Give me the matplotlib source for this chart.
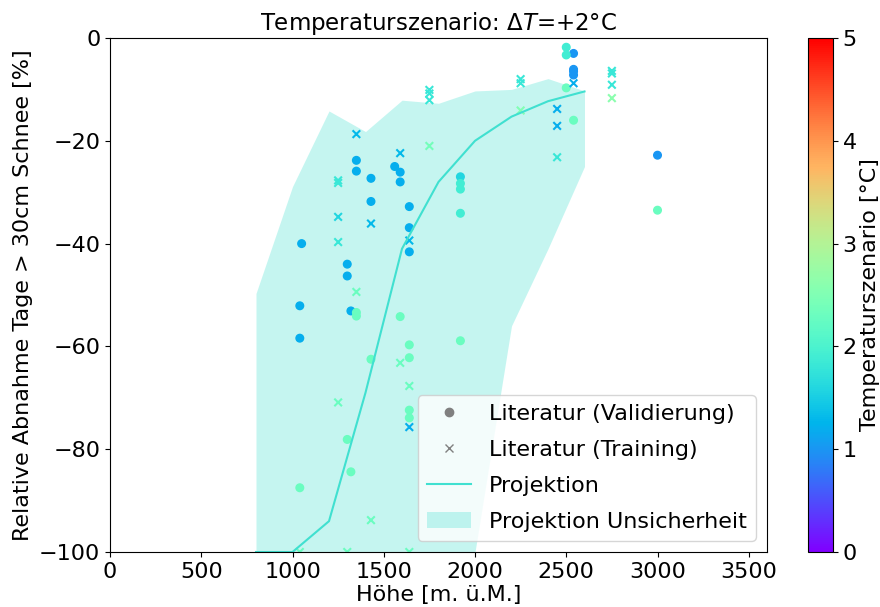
import matplotlib
matplotlib.use('Agg')
import matplotlib.pyplot as plt
from matplotlib.lines import Line2D
from matplotlib.patches import Patch
import matplotlib.cm as cm
import matplotlib.colors as mcolors

# Literatur (Validierung): Höhe, relative Abnahme, Temperaturszenario
val_hoehe = [1350, 1350, 1430, 1430, 1050, 1560, 1590, 1590, 1640, 1640, 1640, 1300, 1300, 1040, 1320, 1040,
             2540, 2540, 2540, 2540, 3000,
             1920, 1920, 1920, 1920, 2500, 2500,
             1350, 1350, 1590, 1640, 1640, 1430, 1640, 1640, 1300, 1320, 1040, 1920, 2500, 2540, 3000]
val_abnahme = [-23.8, -25.9, -27.3, -31.8, -40.0, -25.0, -26.1, -28.0, -32.8, -36.9, -41.6, -44.0, -46.3, -52.1, -53.1, -58.4,
               -3.0, -6.1, -6.5, -7.2, -22.8,
               -27.0, -28.3, -29.4, -34.1, -1.8, -3.3,
               -53.4, -54.1, -54.2, -59.7, -62.2, -62.5, -72.4, -73.9, -78.1, -84.4, -87.5, -58.9, -9.7, -16.0, -33.5]
val_temp = [1.2] * 16 + [1.0] * 5 + [1.6, 1.9, 1.9, 1.9, 1.9, 1.9] + [2.3] * 15

# Literatur (Training)
tr_hoehe = [1350, 1250, 1250, 1250, 1250, 1430, 1590, 1640, 1350, 1590, 1640, 1250, 1640, 1430,
            1040, 1300, 1640, 1750, 1750, 1750, 1750, 2250, 2250, 2250, 2450, 2450, 2450, 2540,
            2750, 2750, 2750, 2750]
tr_abnahme = [-18.7, -27.7, -28.2, -34.8, -39.7, -36.1, -22.4, -39.4, -49.4, -63.2, -67.7, -70.9, -75.7, -93.8,
              -100, -100, -100, -10.1, -10.8, -12.1, -21.0, -8.0, -8.8, -14.1, -13.8, -17.1, -23.2, -8.8,
              -6.4, -6.9, -9.1, -11.7]
tr_temp = [1.3, 1.8, 1.8, 1.6, 1.8, 1.3, 1.3, 1.3, 2.3, 2.3, 2.3, 2.3, 1.2, 2.3,
           2.3, 2.3, 2.3, 1.8, 1.8, 1.8, 2.4, 1.8, 1.8, 2.5, 1.2, 1.2, 1.8, 1.2,
           1.8, 1.8, 1.8, 2.6]

# Projektion und Unsicherheit
proj_hoehe = [800, 1000, 1200, 1400, 1600, 1800, 2000, 2200, 2400, 2600]
proj_mittel = [-100, -100, -94, -69, -41, -28, -20, -15.3, -12.3, -10.4]
proj_oben = [-49.7, -28.9, -14.2, -18.2, -12.1, -12.7, -10.3, -10.0, -7.9, -10.3]
proj_unten = [-100, -100, -100, -100, -100, -100, -100, -56, -41, -25]

plt.rcParams['font.size'] = 16
fig = plt.figure(figsize=(8.8, 6.07), dpi=100)
ax = fig.add_axes([0.125, 0.0906, 0.7466, 0.8468])
cax = fig.add_axes([0.918, 0.0906, 0.0284, 0.8468])

norm = mcolors.Normalize(vmin=0, vmax=5)
farbe = 'turquoise'

ax.fill_between(proj_hoehe, proj_unten, proj_oben, color=farbe, alpha=0.3, linewidth=0)
ax.plot(proj_hoehe, proj_mittel, color=farbe, linewidth=1.5)
ax.scatter(val_hoehe, val_abnahme, c=val_temp, cmap='rainbow', norm=norm, marker='o', s=30)
ax.scatter(tr_hoehe, tr_abnahme, c=tr_temp, cmap='rainbow', norm=norm, marker='x', s=30)

ax.set_xlim(0, 3600)
ax.set_ylim(-100, 0)
ax.set_xticks(range(0, 3501, 500))
ax.set_xlabel('Höhe [m. ü.M.]', labelpad=2)
ax.set_ylabel('Relative Abnahme Tage > 30cm Schnee [%]')
ax.set_title(r'Temperaturszenario: $\Delta T$=+2°C', fontsize=16.5)

handles = [Line2D([], [], marker='o', color='gray', linestyle='none', markersize=6),
           Line2D([], [], marker='x', color='gray', linestyle='none', markersize=6),
           Line2D([], [], color=farbe, linewidth=1.5),
           Patch(facecolor=farbe, alpha=0.3)]
labels = ['Literatur (Validierung)', 'Literatur (Training)', 'Projektion', 'Projektion Unsicherheit']
ax.legend(handles, labels, loc='lower right', fontsize=16, labelspacing=0.72)

sm = cm.ScalarMappable(norm=norm, cmap='rainbow')
cb = fig.colorbar(sm, cax=cax)
cb.set_label('Temperaturszenario [°C]', labelpad=2)

fig.savefig('out.png', dpi=100)
